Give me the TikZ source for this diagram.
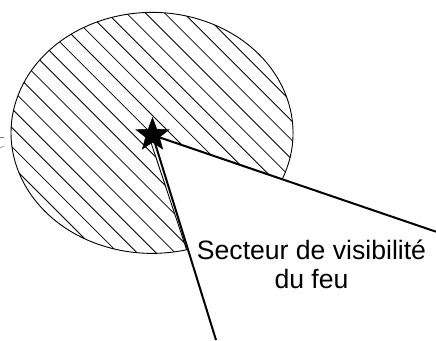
\documentclass[tikz,border=0pt]{standalone}
\usepackage{fontspec}
\setmainfont{Liberation Sans}
\usetikzlibrary{shapes.geometric}
\begin{document}
\begin{tikzpicture}[x=1pt,y=-1pt,
  hatch/.style={line width=0.8pt},
  rim/.style={line width=0.9pt},
  ray/.style={line width=2pt},
  tick/.style={line width=0.6pt, gray},
  lamp/.style={star, star points=5, star point ratio=2.4, fill=black, draw=black, minimum size=35pt, inner sep=0pt},
  lbl/.style={font=\fontsize{26.6}{28.5}\selectfont, align=center, inner sep=0pt, anchor=south}]
\useasboundingbox (0,0) rectangle (436,340);
\def\pacpath{(148,133.5) -- (282.1,179.4) arc[start angle=22.7, end angle=-284.2, x radius=141, y radius=120.5] -- cycle}
\begin{scope}
  \clip \pacpath;
  \foreach \k in {-8,...,20}
    \draw[hatch] (-50,{46.7-19.1*\k}) -- (350,{446.7-19.1*\k});
\end{scope}
\draw[rim] \pacpath;
\coordinate (c) at (152.5,135);
\coordinate (r) at (436,231.7);
\coordinate (b) at (216,340);
\draw[ray] (c) -- (r);
\draw[ray] (c) -- (b);
\node[lamp] (light) at (c) {};
\node[lbl] (txt) at (311.5,288.5) {Secteur de visibilité\\du feu};
\coordinate (m1) at (0,137.5);
\coordinate (m2) at (4,137.5);
\coordinate (m3) at (0,148);
\coordinate (m4) at (4,146);
\draw[tick] (m1) -- (m2);
\draw[tick] (m3) -- (m4);
\end{tikzpicture}
\end{document}
